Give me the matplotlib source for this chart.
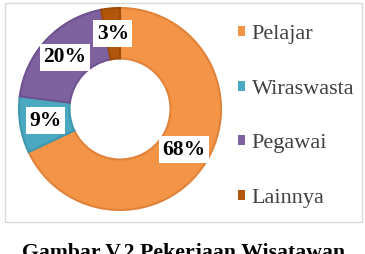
import matplotlib.pyplot as plt
from matplotlib.patches import Rectangle

# data
labels = ["Pelajar", "Wiraswasta", "Pegawai", "Lainnya"]
values = [68, 9, 20, 3]
colors = ["#F39446", "#4AA8C0", "#7E62A0", "#B2560C"]
edges = ["#E0823A", "#3E97AE", "#6E5290", "#A04C08"]
title = "Gambar V.2 Pekerjaan Wisatawan"

serif = ["Liberation Serif", "DejaVu Serif"]

fig = plt.figure(figsize=(3.65, 2.54), dpi=100)

# grey frame round the chart
fig.patches.append(Rectangle((5 / 365, 32 / 254), 357 / 365, 219 / 254,
                             transform=fig.transFigure, fill=False,
                             edgecolor="#D9D9D9", linewidth=1))

ax = fig.add_axes([19 / 365, 44 / 254, 202 / 365, 202 / 254])
wedges, texts, autotexts = ax.pie(
    values, colors=colors, startangle=90, counterclock=False,
    radius=1.0, wedgeprops=dict(width=0.5, linewidth=1.5),
    autopct=lambda p: f"{p:.0f}%", pctdistance=0.75,
    textprops=dict(family=serif, fontsize=15.5, fontweight="bold", color="black"))
for w, ec in zip(wedges, edges):
    w.set_edgecolor(ec)
for t in autotexts:
    t.set_bbox(dict(facecolor="white", edgecolor="none", pad=2.5))
ax.set_xlim(-1, 1)
ax.set_ylim(-1, 1)
ax.set_aspect("equal")
ax.axis("off")

leg = fig.legend(wedges, labels, loc="upper left",
                 bbox_to_anchor=(238 / 365, 1 - 25 / 254),
                 frameon=False, prop=dict(family=serif, size=16),
                 handlelength=0.32, handleheight=0.32, handletextpad=0.3,
                 labelspacing=1.6, borderpad=0, borderaxespad=0)
for t in leg.get_texts():
    t.set_color("#404040")
for h in leg.legend_handles:
    h.set_linewidth(0)

fig.text(184 / 365, -4 / 254, title, ha="center", va="baseline",
         family=serif, fontsize=15.7, fontweight="bold")

fig.savefig("out.png", dpi=100)
